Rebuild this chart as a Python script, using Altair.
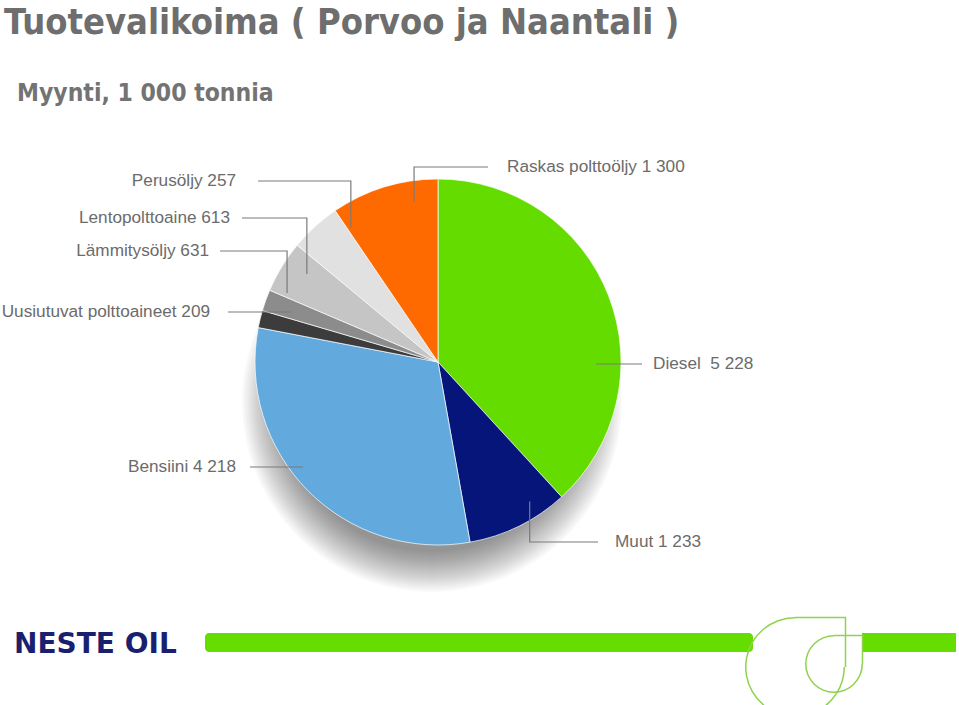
import math
import altair as alt
import pandas as pd

# ---------------- data ----------------
categories = ["Diesel", "Muut", "Bensiini", "Uusiutuvat polttoaineet",
              "Perusöljy", "Lämmitysöljy", "Lentopolttoaine", "Raskas polttoöljy"]
values = [5228, 1233, 4218, 209, 257, 631, 613, 1300]
label_texts = ["Diesel\u00a0\u00a05 228", "Muut 1 233", "Bensiini 4 218", "Uusiutuvat polttoaineet 209",
               "Perusöljy 257", "Lämmitysöljy 631", "Lentopolttoaine 613", "Raskas polttoöljy 1 300"]

# ---------------- style / layout ----------------
slice_colors = ["#64dc00", "#06157a", "#62a9dd", "#3c3c3c",
                "#8c8c8c", "#c5c5c5", "#e1e1e1", "#ff6a00"]
CX, CY, R = 438, 362, 183
TEXT_GREY = "#6b6b6b"
LINE_GREY = "#7a7a7a"
FONT = "Liberation Sans"
NARROW = "'Liberation Sans Narrow', 'DejaVu Sans Condensed', 'Roboto Condensed', 'Liberation Sans', sans-serif"

# annotation layout: label anchor (px), alignment, leader start x, anchor polar (deg, px), style
ann_label_x = [653, 615, 236, 210, 236, 209, 230, 507]
ann_label_y = [364, 542, 467, 312, 181, 251, 218, 167]
ann_align = ["left", "left", "right", "right", "right", "right", "right", "left"]
ann_line_x = [642, 598, 250, 228, 258, 220, 242, 488]
ann_angle = [90.7, 146.7, 232.1, 288.7, 327.0, 294.6, 303.9, 351.5]
ann_radius = [158, 167, 171, 155, 160, 166, 158, 162]
ann_kind = ["flat", "elbow", "flat", "flat", "elbow", "elbow", "elbow", "elbow"]

pie_df = pd.DataFrame({"category": categories, "value": values,
                       "order": list(range(len(categories)))})

# leader lines
rows = []
for i, name in enumerate(categories):
    th = math.radians(ann_angle[i])
    ax = CX + ann_radius[i] * math.sin(th)
    ay = CY - ann_radius[i] * math.cos(th)
    ly = ann_label_y[i]
    if ann_kind[i] == "flat":
        pts = [(ann_line_x[i], ly), (ax, ly)]
    else:
        pts = [(ann_line_x[i], ly), (ax, ly), (ax, ay)]
    for k, (px, py) in enumerate(pts):
        rows.append({"name": name, "seq": k, "px": px, "py": py})
lines_df = pd.DataFrame(rows)

labels_df = pd.DataFrame({"name": categories, "text": label_texts,
                          "px": ann_label_x, "py": ann_label_y, "align": ann_align})

# ---------------- chart ----------------
# soft drop shadow: many faint concentric discs (decoration)
shadow_df = pd.DataFrame({"r": list(range(150, 192, 2))})
shadow = alt.Chart(shadow_df).mark_arc(theta=0, theta2=2 * math.pi, color="#000000",
                                       opacity=0.022).encode(
    radius=alt.Radius("r:Q", scale=None, stack=None),
    x=alt.value(CX - 6), y=alt.value(CY + 40),
    detail="r:Q",
)

pie = alt.Chart(pie_df).mark_arc(radius=R, stroke="#ffffff", strokeWidth=0.7).encode(
    theta=alt.Theta("value:Q", stack=True),
    order=alt.Order("order:Q"),
    color=alt.Color("category:N", scale=alt.Scale(domain=categories, range=slice_colors),
                    legend=None),
    x=alt.value(CX), y=alt.value(CY),
)

leaders = alt.Chart(lines_df).mark_line(color=LINE_GREY, strokeWidth=1.2).encode(
    x=alt.X("px:Q", scale=None, axis=None),
    y=alt.Y("py:Q", scale=None, axis=None),
    detail="name:N",
    order="seq:Q",
)

lab_left = alt.Chart(labels_df[labels_df["align"] == "left"]).mark_text(
    align="left", baseline="middle", font=FONT, fontSize=17.2, color=TEXT_GREY).encode(
    x=alt.X("px:Q", scale=None, axis=None), y=alt.Y("py:Q", scale=None, axis=None),
    text="text:N")
lab_right = alt.Chart(labels_df[labels_df["align"] == "right"]).mark_text(
    align="right", baseline="middle", font=FONT, fontSize=17.2, color=TEXT_GREY).encode(
    x=alt.X("px:Q", scale=None, axis=None), y=alt.Y("py:Q", scale=None, axis=None),
    text="text:N")

title_df = pd.DataFrame({"t": ["Tuotevalikoima ( Porvoo ja Naantali )"]})
title = alt.Chart(title_df).mark_text(
    align="left", baseline="alphabetic", font=NARROW, fontWeight="bold",
    fontSize=36, color="#6e6e6e").encode(x=alt.value(4), y=alt.value(34), text="t:N")
sub_df = pd.DataFrame({"t": ["Myynti, 1 000 tonnia"]})
subtitle = alt.Chart(sub_df).mark_text(
    align="left", baseline="alphabetic", font=NARROW, fontWeight="bold",
    fontSize=24.5, color="#737373").encode(x=alt.value(17), y=alt.value(101), text="t:N")

# footer: logo text, green band, ring emblem
logo_df = pd.DataFrame({"t": ["NESTE OIL"]})
logo = alt.Chart(logo_df).mark_text(
    align="left", baseline="alphabetic", font="DejaVu Sans", fontWeight="bold",
    fontSize=28, color="#1a1f6f").encode(x=alt.value(14), y=alt.value(653), text="t:N")

GREEN = "#66dd00"
LIGHT_GREEN = "#8fd24e"
band1 = alt.Chart(logo_df).mark_rect(color=GREEN, cornerRadius=4).encode(
    x=alt.value(205), x2=alt.value(753), y=alt.value(633), y2=alt.value(652))
band2 = alt.Chart(logo_df).mark_rect(color=GREEN).encode(
    x=alt.value(862), x2=alt.value(956), y=alt.value(633), y2=alt.value(652))

emb_outer1 = alt.Chart(logo_df).mark_arc(
    radius=50, radius2=48.5, theta=math.radians(200), theta2=2 * math.pi,
    color=LIGHT_GREEN).encode(x=alt.value(795), y=alt.value(667))
emb_outer2 = alt.Chart(logo_df).mark_arc(
    radius=50, radius2=48.5, theta=math.radians(90), theta2=math.radians(155),
    color=LIGHT_GREEN).encode(x=alt.value(795), y=alt.value(667))
emb_inner = alt.Chart(logo_df).mark_arc(
    radius=29, radius2=27.5, theta=math.radians(90), theta2=2 * math.pi,
    color=LIGHT_GREEN).encode(x=alt.value(834), y=alt.value(664))
emb_r1 = alt.Chart(logo_df).mark_rule(color=LIGHT_GREEN, strokeWidth=1.5).encode(
    x=alt.value(795), x2=alt.value(846), y=alt.value(617.5))
emb_r2 = alt.Chart(logo_df).mark_rule(color=LIGHT_GREEN, strokeWidth=1.5).encode(
    x=alt.value(845.5), y=alt.value(617), y2=alt.value(667))
emb_r3 = alt.Chart(logo_df).mark_rule(color=LIGHT_GREEN, strokeWidth=1.5).encode(
    x=alt.value(834), x2=alt.value(863), y=alt.value(635.5))
emb_r4 = alt.Chart(logo_df).mark_rule(color=LIGHT_GREEN, strokeWidth=1.5).encode(
    x=alt.value(862.5), y=alt.value(635), y2=alt.value(664))

chart = alt.layer(
    shadow, pie, leaders, lab_left, lab_right, title, subtitle,
    band1, band2, emb_outer1, emb_outer2, emb_inner, emb_r1, emb_r2, emb_r3, emb_r4, logo,
).properties(
    width=959, height=705, padding=0, autosize=alt.AutoSizeParams(type="none"),
).configure(background="#ffffff").configure_view(stroke=None)

chart.save("out.html", embed_options={"renderer": "svg", "actions": False})
